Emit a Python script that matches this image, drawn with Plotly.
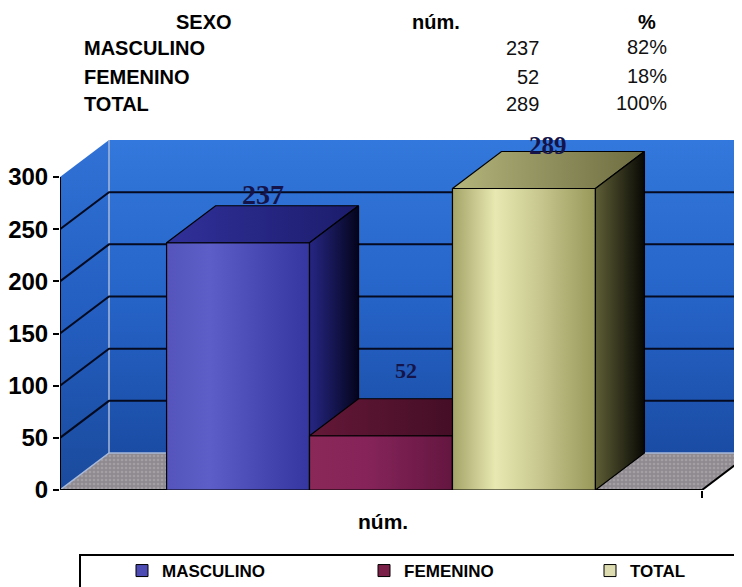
import plotly.graph_objects as go

# ---------------- data ----------------
categories = ["MASCULINO", "FEMENINO", "TOTAL"]
counts = [237, 52, 289]
pct_labels = ["82%", "18%", "100%"]
table_header = ["SEXO", "núm.", "%"]
y_ticks = [0, 50, 100, 150, 200, 250, 300]
axis_label = "núm."

# ---------------- geometry (window pixels -> figure / data units) ----------------
BODY = 8                      # page body margin: figure starts at (8, 8) in the window
W, H = 742, 587
AX_LEFT, AX_BOTTOM, AX_TOP = 60, 490, 130   # plot-area edges in window pixels
ML = AX_LEFT - BODY
MT = AX_TOP - BODY
MB = H - (AX_BOTTOM - BODY)
MR = 0
PLOT_W = W - ML - MR
PLOT_H = H - MT - MB
PX_X = 642.0            # pixels per category-axis unit
PX_Y = 313.0 / 300.0    # pixels per value unit
XR = PLOT_W / PX_X
YR = PLOT_H / PX_Y
DX = 49 / PX_X          # depth offset (x)
DY = 37 / PX_Y          # depth offset (y)
CENTER = 0.5
GROUP_W = 0.668
BAR_W = GROUP_W / 3
YTOP = y_ticks[-1]


def px2paper_x(px):
    return (px - AX_LEFT) / PLOT_W


def px2paper_y(py):
    return (AX_BOTTOM - py) / PLOT_H


def poly(xs, ys, xa, ya, grad=None, color=None, line="black", lw=1.2, pattern=None):
    kw = dict(x=list(xs) + [xs[0]], y=list(ys) + [ys[0]], mode="lines", fill="toself",
              line=dict(color=line, width=lw), xaxis=xa, yaxis=ya,
              showlegend=False, hoverinfo="skip")
    if grad is not None:
        kw["fillgradient"] = grad
    if color is not None:
        kw["fillcolor"] = color
    if pattern is not None:
        kw["fillpattern"] = pattern
    return go.Scatter(**kw)


fig = go.Figure()

# ---------------- walls & floor (base subplot) ----------------
XFAR = XR + 0.2
fig.add_trace(poly([DX, XFAR, XFAR, DX], [DY, DY, YTOP + DY, YTOP + DY], "x", "y",
                   grad=dict(type="vertical", start=DY, stop=YTOP + DY,
                             colorscale=[[0, "#1a4ca4"], [0.5, "#2664c8"], [1, "#3378dc"]]),
                   line="rgba(0,0,0,0)", lw=0))
fig.add_trace(poly([0, DX, DX, 0], [0, DY, YTOP + DY, YTOP], "x", "y",
                   grad=dict(type="vertical", start=0, stop=YTOP + DY,
                             colorscale=[[0, "#1a4a9c"], [0.5, "#235ec0"], [1, "#3172d6"]]),
                   line="rgba(0,0,0,0)", lw=0))
fig.add_trace(poly([0, 1.0, 1.0 + DX, DX], [0, 0, DY, DY], "x", "y",
                   color="#949094", line="rgba(0,0,0,0)", lw=0,
                   pattern=dict(shape=".", fgcolor="#b8b4b4", bgcolor="#8e8a90",
                                size=4, solidity=0.35)))
fig.add_trace(go.Scatter(x=[0, DX, XFAR, None, DX, DX], y=[0, DY, DY, None, DY, YTOP + DY],
                         mode="lines", line=dict(color="#a8b8d8", width=1.5),
                         showlegend=False, hoverinfo="skip"))
gx, gy = [], []
for t in y_ticks[1:-1]:
    gx += [0, DX, XFAR, None]
    gy += [t, t + DY, t + DY, None]
fig.add_trace(go.Scatter(x=gx, y=gy, mode="lines", line=dict(color="#050a20", width=2),
                         showlegend=False, hoverinfo="skip"))
fig.add_trace(go.Scatter(x=[0, 1.0, 1.0 + DX], y=[0, 0, DY], mode="lines",
                         line=dict(color="black", width=2), showlegend=False, hoverinfo="skip"))

# ---------------- bars (each in its own overlay subplot, painter order) ----------------
front_colors = ["#4c4cb4", "#7a2048", "#dcdcb0"]
front_grads = [
    [[0, "#5454bc"], [0.3, "#5e5ec8"], [0.7, "#4646b0"], [1, "#3636a0"]],
    [[0, "#8a2858"], [0.4, "#86245a"], [1, "#641640"]],
    [[0, "#a4a468"], [0.3, "#e8e8b2"], [0.6, "#c8c890"], [1, "#98985a"]],
]
top_grads = [
    [[0, "#30309a"], [1, "#1c1c6c"]],
    [[0, "#641838"], [1, "#3a0a20"]],
    [[0, "#b4b47c"], [1, "#6c6c40"]],
]
side_grads = [
    [[0, "#262684"], [1, "#04041c"]],
    [[0, "#4a1028"], [1, "#100006"]],
    [[0, "#5e5e36"], [1, "#080804"]],
]
label_sizes = [28, 22, 25]
label_shift = [11, 28, 6]
legend_ids = ["legend", "legend2", "legend3"]
legend_px = [122, 364, 590]     # window x of each legend entry

for i, (cat, v) in enumerate(zip(categories, counts)):
    xa, ya = f"x{i + 2}", f"y{i + 2}"
    off = -GROUP_W / 2 + i * BAR_W
    xl = CENTER + off
    xr = xl + BAR_W
    fig.add_trace(go.Bar(x=[CENTER], y=[v], width=[BAR_W], offset=[off], name=cat,
                         marker=dict(color=front_colors[i], line=dict(color="black", width=1)),
                         xaxis=xa, yaxis=ya, hoverinfo="skip", legend=legend_ids[i]))
    fig.add_trace(poly([xl, xr, xr, xl], [0, 0, v, v], xa, ya,
                       grad=dict(type="horizontal", start=xl, stop=xr, colorscale=front_grads[i])))
    fig.add_trace(poly([xl, xr, xr + DX, xl + DX], [v, v, v + DY, v + DY], xa, ya,
                       grad=dict(type="horizontal", start=xl, stop=xr + DX, colorscale=top_grads[i])))
    fig.add_trace(poly([xr, xr + DX, xr + DX, xr], [0, DY, v + DY, v], xa, ya,
                       grad=dict(type="horizontal", start=xr, stop=xr + DX, colorscale=side_grads[i])))
    fig.add_annotation(x=(xl + xr) / 2 + DX / 2, y=v + DY, xref=xa, yref=ya, text=str(v),
                       showarrow=False, yanchor="middle", yshift=label_shift[i],
                       font=dict(family="Liberation Serif", size=label_sizes[i],
                                 color="#14144a", weight="bold"))

# ---------------- axes ----------------
common = dict(showgrid=False, zeroline=False, automargin=False)
fig.update_layout(
    xaxis=dict(range=[0, XR], showticklabels=False, tickvals=[1.0], ticks="outside",
               ticklen=7, tickwidth=2, tickcolor="black", showline=False, **common),
    yaxis=dict(range=[0, YR], tickvals=y_ticks, ticks="outside", ticklen=6, tickwidth=2,
               tickcolor="black", showline=False,
               tickfont=dict(family="Liberation Sans", size=24, color="black", weight="bold"),
               **common),
)
for i in range(len(categories)):
    fig.update_layout(**{
        f"xaxis{i + 2}": dict(range=[0, XR], overlaying="x", visible=False, **common),
        f"yaxis{i + 2}": dict(range=[0, YR], overlaying="y", visible=False, **common),
    })

fig.add_shape(type="line", xref="x", yref="y", x0=0, x1=0, y0=0, y1=YTOP,
              line=dict(color="black", width=2), layer="above")

fig.add_annotation(x=px2paper_x(383), y=px2paper_y(521), xref="paper", yref="paper",
                   text=axis_label, showarrow=False, xanchor="center", yanchor="middle",
                   font=dict(family="Liberation Sans", size=21, color="black", weight="bold"))

# ---------------- data table at top ----------------
hdr_x = [204, 436, 647]
for t, x in zip(table_header, hdr_x):
    fig.add_annotation(x=px2paper_x(x), y=px2paper_y(22), xref="paper", yref="paper",
                       text=t, showarrow=False, xanchor="center", yanchor="middle",
                       font=dict(family="Liberation Sans", size=20, color="black", weight="bold"))
row_y = [48, 77, 104]
pct_y = [47, 76, 103]
for cat, v, p, ry, py in zip(categories, counts, pct_labels, row_y, pct_y):
    fig.add_annotation(x=px2paper_x(82), y=px2paper_y(ry), xref="paper", yref="paper",
                       text=cat, showarrow=False, xanchor="left", yanchor="middle",
                       font=dict(family="Liberation Sans", size=20, color="black", weight="bold"))
    fig.add_annotation(x=px2paper_x(541), y=px2paper_y(ry), xref="paper", yref="paper",
                       text=str(v), showarrow=False, xanchor="right", yanchor="middle",
                       font=dict(family="Liberation Sans", size=20, color="#111111"))
    fig.add_annotation(x=px2paper_x(669), y=px2paper_y(py), xref="paper", yref="paper",
                       text=p, showarrow=False, xanchor="right", yanchor="middle",
                       font=dict(family="Liberation Sans", size=20, color="#111111"))

# ---------------- legend ----------------
fig.add_shape(type="rect", xref="paper", yref="paper",
              x0=px2paper_x(80), x1=px2paper_x(800), y0=px2paper_y(640), y1=px2paper_y(555),
              line=dict(color="black", width=2), fillcolor="rgba(0,0,0,0)", layer="above")

legend_font = dict(family="Liberation Sans", size=17, color="black", weight="bold")
legend_layout = {}
for lid, lx in zip(legend_ids, legend_px):
    legend_layout[lid] = dict(orientation="h", x=px2paper_x(lx), y=px2paper_y(571),
                              xanchor="left", yanchor="middle", bgcolor="rgba(0,0,0,0)",
                              itemwidth=30, font=legend_font)

fig.update_layout(
    width=W, height=H,
    margin=dict(l=ML, r=MR, t=MT, b=MB, pad=0, autoexpand=False),
    paper_bgcolor="white", plot_bgcolor="white",
    barmode="overlay",
    showlegend=True,
    **legend_layout,
)

fig.write_html("out.html")
